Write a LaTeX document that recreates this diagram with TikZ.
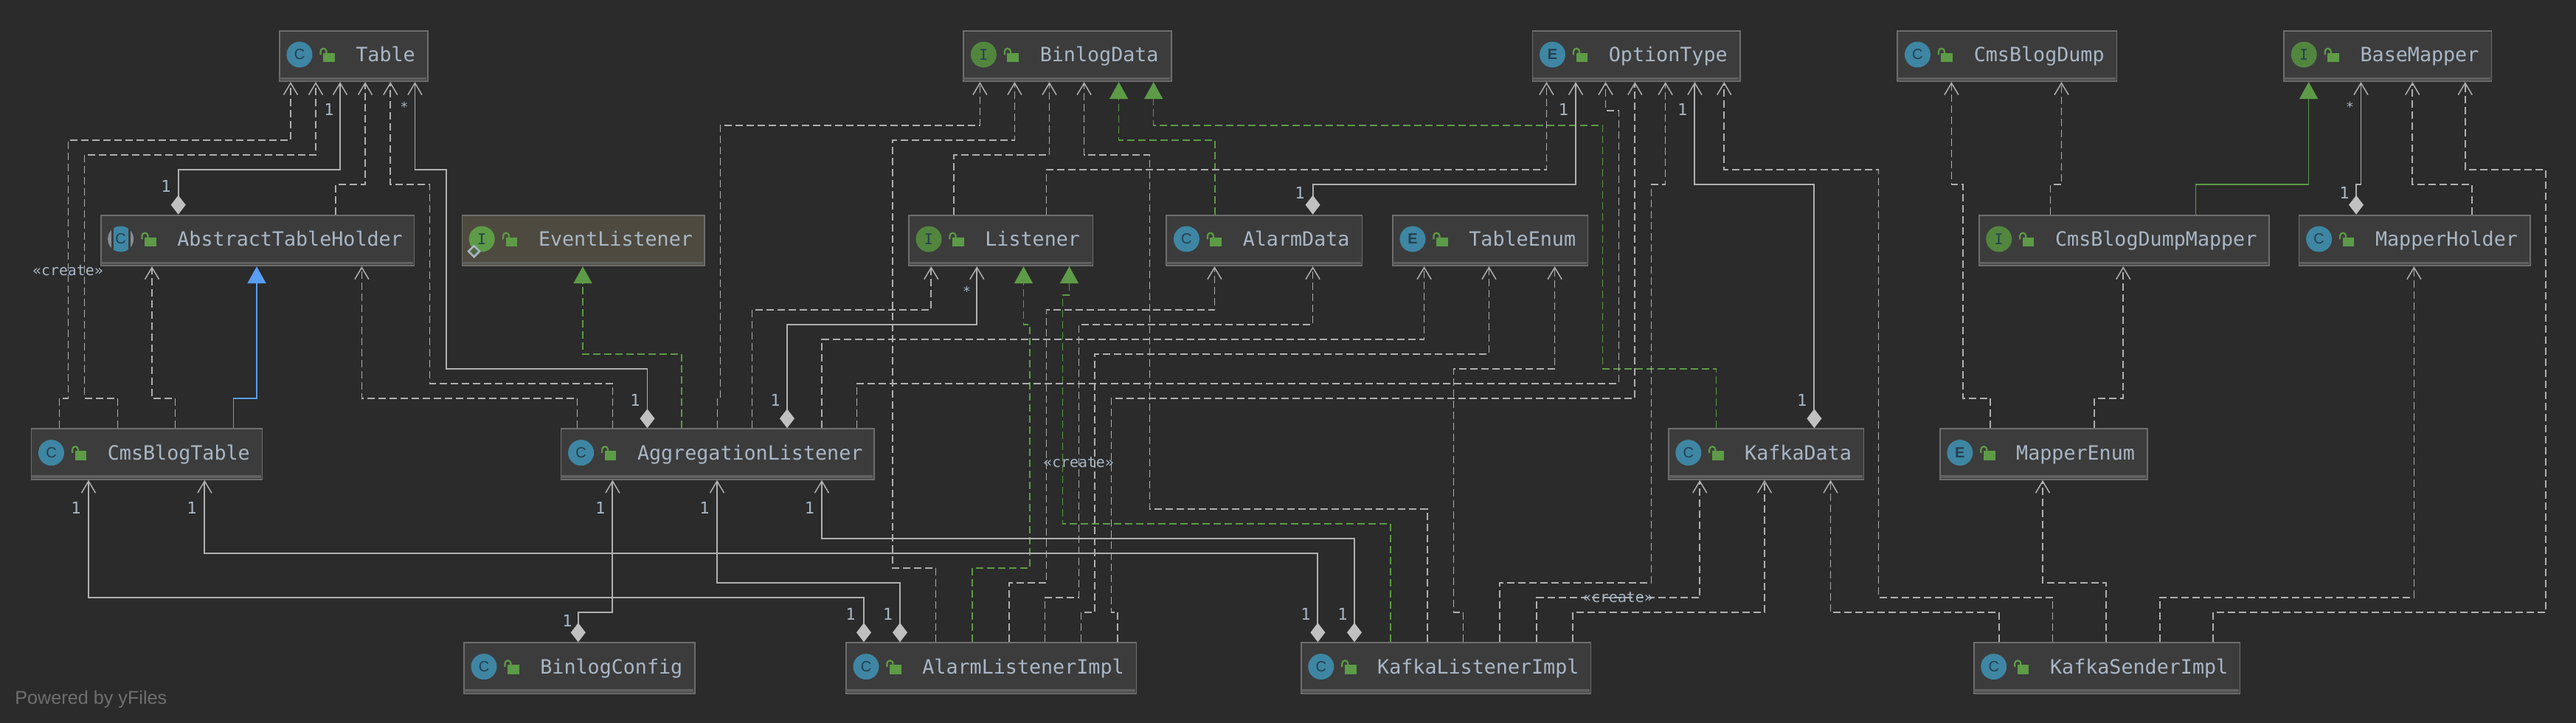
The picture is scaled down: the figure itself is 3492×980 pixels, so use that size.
\documentclass[tikz,border=0pt]{standalone}
\usepackage{fontspec}
\setmainfont{Liberation Sans}
\setmonofont{DejaVu Sans Mono}
\usetikzlibrary{arrows.meta}
\definecolor{bgc}{HTML}{2B2B2B}
\definecolor{boxc}{HTML}{3C3C3C}
\definecolor{boxe}{HTML}{6E6E6E}
\definecolor{boxb}{HTML}{606060}
\definecolor{evc}{HTML}{4E4A3F}
\definecolor{txtc}{HTML}{A9B7C6}
\definecolor{lnc}{HTML}{B0B0B0}
\definecolor{dmc}{HTML}{C0C0C0}
\definecolor{grnc}{HTML}{5D9B47}
\definecolor{bluc}{HTML}{589DF6}
\definecolor{tealc}{HTML}{3E86A3}
\definecolor{igrn}{HTML}{52863F}
\definecolor{icot}{HTML}{253F4E}
\definecolor{pwrc}{HTML}{6F6F6F}
\tikzset{
  umlbox/.style={draw=boxe,fill=boxc,line width=.9pt,rectangle,inner sep=0pt,anchor=north west},
  namelbl/.style={text=txtc,font=\ttfamily\fontsize{13.35}{15}\selectfont,inner sep=0pt,anchor=base west},
  ico/.style={circle,inner sep=0pt,minimum size=17.5pt,text=icot,font=\rmfamily\fontsize{10}{12}\selectfont},
  mult/.style={text=txtc,font=\ttfamily\fontsize{11}{13}\selectfont,inner sep=0pt},
  star/.style={text=txtc,font=\ttfamily\fontsize{9}{11}\selectfont,inner sep=0pt},
  crt/.style={text=txtc,font=\ttfamily\fontsize{9.9}{12}\selectfont,inner sep=0pt},
  openhead/.style={-{Straight Barb[length=8pt,width=9.5pt,line width=.75pt]}},
  dashpat/.style={dash pattern=on 5pt off 2.5pt},
  dep/.style={draw=lnc,line width=.85pt,dashpat,openhead},
  asc/.style={draw=lnc,line width=.95pt,{Diamond[length=13pt,width=10pt,color=dmc]}-{Straight Barb[length=8pt,width=9.5pt,line width=.75pt]}},
  imp/.style={draw=grnc,line width=.75pt,dashpat,-{Triangle[length=11.5pt,width=12.5pt]}},
  impsolid/.style={draw=grnc,line width=.8pt,-{Triangle[length=11.5pt,width=12.5pt]}},
  ext/.style={draw=bluc,line width=.8pt,-{Triangle[length=11.5pt,width=12.5pt]}},
}
\newcommand{\lockat}[2]{%
  \fill[grnc] ({#1+60},{#2+31}) rectangle ({#1+75.7},{#2+43.3});
  \draw[grnc,line width=1.1pt] ({#1+56.5},{#2+33.6}) -- ({#1+56.5},{#2+29}) arc[start angle=180,end angle=360,x radius=4,y radius=4] -- ({#1+64.5},{#2+31.5});
}
\newcommand{\iconC}[3]{\node[ico,fill=tealc] (#1-icon) at ({#2+28},{#3+33.3}) {C};}
\newcommand{\iconE}[3]{\node[ico,fill=tealc] (#1-icon) at ({#2+28},{#3+33.3}) {\bfseries E};}
\newcommand{\iconI}[3]{\node[ico,fill=igrn,font=\ttfamily\fontsize{10}{12}\selectfont] (#1-icon) at ({#2+28},{#3+33.3}) {I};}
\newcommand{\iconA}[3]{%
  \node[ico,fill=boxe!60!txtc] (#1-icon) at ({#2+27.6},{#3+33.3}) {};
  \fill[boxc] ({#2+27.6-13},{#3+10}) rectangle ({#2+27.6+13},{#3+56});
  \begin{scope}
    \clip ({#2+27.6},{#3+33.3}) circle[radius=17.5];
    \fill[tealc] ({#2+27.6-10},{#3+10}) rectangle ({#2+27.6+10},{#3+56});
  \end{scope}
  \node[ico,minimum size=0pt] (#1-let) at ({#2+27.6},{#3+33.3}) {C};
}
\newcommand{\iconL}[3]{%
  \node[ico,fill=grnc,font=\ttfamily\fontsize{10}{12}\selectfont] (#1-icon) at ({#2+27.6},{#3+33.3}) {I};
  \draw[txtc,line width=1.3pt,fill=evc!50!igrn] ({#2+17},{#3+42.5}) -- ({#2+24.5},{#3+50}) -- ({#2+17},{#3+57.5}) -- ({#2+9.5},{#3+50}) -- cycle;
}
\newcommand{\cls}[7][boxc]{%
  % #2 name, #3 x0, #4 x1, #5 y0, #6 kind, #7 text
  \pgfmathsetlengthmacro{\bw}{(#4-#3)*.5pt}%
  \node[umlbox,fill=#1,minimum width=\bw,minimum height=34.3pt] (#2) at ({#3},{#5}) {};
  \fill[boxb] ({#3+1},{#5+64}) rectangle ({#4-1},{#5+67.5});
  \csname icon#6\endcsname{#2}{#3}{#5}
  \lockat{#3}{#5}
  \node[namelbl] (#2-name) at ({#3+104},{#5+43}) {#7};
}
\begin{document}
\begin{tikzpicture}[x=.5pt,y=-.5pt]
\fill[bgc] (0,0) rectangle (3492,980);
\useasboundingbox (0,0) rectangle (3492,980);
% ---------- row 1
\cls{Table}{378}{579}{40.7}{C}{Table}
\cls{Binlog}{1305.4}{1586.7}{40.7}{I}{BinlogData}
\cls{OptType}{2076.5}{2357.7}{40.7}{E}{OptionType}
\cls{CmsDump}{2571.4}{2868.6}{40.7}{C}{CmsBlogDump}
\cls{BaseMap}{3095.2}{3376.6}{40.7}{I}{BaseMapper}
% ---------- row 2
\cls{Holder}{136}{560.6}{290.7}{A}{AbstractTableHolder}
\cls[evc]{EventL}{625.6}{954}{290.7}{L}{EventListener}
\cls{Listener}{1231}{1480.5}{290.7}{I}{Listener}
\cls{AlarmData}{1580.4}{1845.6}{290.7}{C}{AlarmData}
\cls{TableEnum}{1887}{2151.5}{290.7}{E}{TableEnum}
\cls{DumpMap}{2681.7}{3074.8}{290.7}{I}{CmsBlogDumpMapper}
\cls{MapHold}{3115.6}{3429.3}{290.7}{C}{MapperHolder}
% ---------- row 3
\cls{CmsTable}{41.5}{354.6}{580.3}{C}{CmsBlogTable}
\cls{Aggr}{759.6}{1184.3}{580.3}{C}{AggregationListener}
\cls{KData}{2260.8}{2525.5}{580.3}{C}{KafkaData}
\cls{MapEnum}{2628.8}{2910}{580.3}{E}{MapperEnum}
% ---------- row 4
\cls{BinCfg}{628}{941}{870.3}{C}{BinlogConfig}
\cls{AlarmImpl}{1146}{1539.5}{870.3}{C}{AlarmListenerImpl}
\cls{KafkaImpl}{1762.8}{2155.6}{870.3}{C}{KafkaListenerImpl}
\cls{SenderImpl}{2674.7}{3035.6}{870.3}{C}{KafkaSenderImpl}
% ---------- connectors to Table
\draw[dep] (CmsTable.north -| 80.4,0) -- (80.4,540) -- (92.5,540) -- (92.5,190) -- (394,190) -- (Table.south -| 394,0);
\draw[dep] (CmsTable.north -| 159.4,0) -- (159.4,540) -- (114.5,540) -- (114.5,210) -- (428,210) -- (Table.south -| 428,0);
\draw[asc] (Holder.north -| 241.7,0) -- (241.7,230) -- (461,230) -- (Table.south -| 461,0);
\draw[dep] (Holder.north -| 454.7,0) -- (454.7,250) -- (495,250) -- (Table.south -| 495,0);
\draw[dep] (Aggr.north -| 830.6,0) -- (830.6,520) -- (582.5,520) -- (582.5,250) -- (529.3,250) -- (Table.south -| 529.3,0);
\draw[asc] (Aggr.north -| 877.5,0) -- (877.5,500) -- (604.6,500) -- (604.6,230) -- (562.5,230) -- (Table.south -| 562.5,0);
% ---------- to AbstractTableHolder / EventListener
\draw[dep] (CmsTable.north -| 237.5,0) -- (237.5,540) -- (206,540) -- (Holder.south -| 206,0);
\draw[ext] (CmsTable.north -| 316.3,0) -- (316.3,540) -- (348,540) -- (Holder.south -| 348,0);
\draw[dep] (Aggr.north -| 782.6,0) -- (782.6,540) -- (490.4,540) -- (Holder.south -| 490.4,0);
\draw[imp] (Aggr.north -| 924,0) -- (924,480) -- (790,480) -- (EventL.south -| 790,0);
% ---------- to BinlogData
\draw[dep] (Aggr.north -| 972.6,0) -- (972.6,540) -- (976.4,540) -- (976.4,170) -- (1328.4,170) -- (Binlog.south -| 1328.4,0);
\draw[dep] (AlarmImpl.north -| 1268.5,0) -- (1268.5,770) -- (1210,770) -- (1210,190) -- (1375.4,190) -- (Binlog.south -| 1375.4,0);
\draw[dep] (Listener.north -| 1293.3,0) -- (1293.3,210) -- (1422.5,210) -- (Binlog.south -| 1422.5,0);
\draw[dep] (KafkaImpl.north -| 1935,0) -- (1935,690) -- (1558.6,690) -- (1558.6,210) -- (1469.6,210) -- (Binlog.south -| 1469.6,0);
\draw[imp] (AlarmData.north -| 1647,0) -- (1647,190) -- (1516.6,190) -- (Binlog.south -| 1516.6,0);
\draw[imp] (KData.north -| 2326.5,0) -- (2326.5,500) -- (2172.5,500) -- (2172.5,170) -- (1563.7,170) -- (Binlog.south -| 1563.7,0);
% ---------- to Listener
\draw[dep] (Aggr.north -| 1019.5,0) -- (1019.5,420) -- (1262.3,420) -- (Listener.south -| 1262.3,0);
\draw[asc] (Aggr.north -| 1067,0) -- (1067,440) -- (1324.3,440) -- (Listener.south -| 1324.3,0);
\draw[imp] (AlarmImpl.north -| 1318,0) -- (1318,770) -- (1396,770) -- (1396,440) -- (1387.5,440) -- (Listener.south -| 1387.5,0);
\draw[imp] (KafkaImpl.north -| 1885,0) -- (1885,710) -- (1440.3,710) -- (1440.3,400) -- (1449.5,400) -- (Listener.south -| 1449.5,0);
% ---------- to AlarmData
\draw[dep] (AlarmImpl.north -| 1368,0) -- (1368,790) -- (1418.5,790) -- (1418.5,420) -- (1646.4,420) -- (AlarmData.south -| 1646.4,0);
\draw[dep] (AlarmImpl.north -| 1416.5,0) -- (1416.5,810) -- (1462.4,810) -- (1462.4,440) -- (1779.6,440) -- (AlarmData.south -| 1779.6,0);
% ---------- to TableEnum
\draw[dep] (Aggr.north -| 1114.2,0) -- (1114.2,460) -- (1930.6,460) -- (TableEnum.south -| 1930.6,0);
\draw[dep] (AlarmImpl.north -| 1465.6,0) -- (1465.6,830) -- (1484.3,830) -- (1484.3,480) -- (2018.4,480) -- (TableEnum.south -| 2018.4,0);
\draw[dep] (KafkaImpl.north -| 1983.4,0) -- (1983.4,830) -- (1970.6,830) -- (1970.6,500) -- (2107.6,500) -- (TableEnum.south -| 2107.6,0);
% ---------- to OptionType
\draw[dep] (Listener.north -| 1418.5,0) -- (1418.5,230) -- (2096.4,230) -- (OptType.south -| 2096.4,0);
\draw[asc] (AlarmData.north -| 1779.6,0) -- (1779.6,250) -- (2136,250) -- (OptType.south -| 2136,0);
\draw[dep] (Aggr.north -| 1161.4,0) -- (1161.4,520) -- (2194.4,520) -- (2194.4,150) -- (2176.5,150) -- (OptType.south -| 2176.5,0);
\draw[dep] (AlarmImpl.north -| 1515.3,0) -- (1515.3,830) -- (1506.4,830) -- (1506.4,540) -- (2216.3,540) -- (OptType.south -| 2216.3,0);
\draw[dep] (KafkaImpl.north -| 2033,0) -- (2033,790) -- (2238.5,790) -- (2238.5,250) -- (2257.6,250) -- (OptType.south -| 2257.6,0);
\draw[asc] (KData.north -| 2459.4,0) -- (2459.4,250) -- (2297.4,250) -- (OptType.south -| 2297.4,0);
\draw[dep] (SenderImpl.north -| 2782.5,0) -- (2782.5,810) -- (2546.5,810) -- (2546.5,230) -- (2337.2,230) -- (OptType.south -| 2337.2,0);
% ---------- to KafkaData
\draw[dep] (KafkaImpl.north -| 2083,0) -- (2083,810) -- (2304.2,810) -- (KData.south -| 2304.2,0);
\draw[dep] (KafkaImpl.north -| 2132,0) -- (2132,830) -- (2392,830) -- (KData.south -| 2392,0);
\draw[dep] (SenderImpl.north -| 2709.8,0) -- (2709.8,830) -- (2481.5,830) -- (KData.south -| 2481.5,0);
% ---------- mapper side
\draw[dep] (SenderImpl.north -| 2855,0) -- (2855,790) -- (2769,790) -- (MapEnum.south -| 2769,0);
\draw[dep] (MapEnum.north -| 2698.3,0) -- (2698.3,540) -- (2660.7,540) -- (2660.7,250) -- (2645.4,250) -- (CmsDump.south -| 2645.4,0);
\draw[dep] (MapEnum.north -| 2839.3,0) -- (2839.3,540) -- (2878.2,540) -- (DumpMap.south -| 2878.2,0);
\draw[dep] (DumpMap.north -| 2779.4,0) -- (2779.4,250) -- (2794.5,250) -- (CmsDump.south -| 2794.5,0);
\draw[impsolid] (DumpMap.north -| 2976.5,0) -- (2976.5,250) -- (3129.6,250) -- (BaseMap.south -| 3129.6,0);
\draw[asc] (MapHold.north -| 3194,0) -- (3194,250) -- (3200.5,250) -- (BaseMap.south -| 3200.5,0);
\draw[dep] (MapHold.north -| 3350.9,0) -- (3350.9,250) -- (3270.3,250) -- (BaseMap.south -| 3270.3,0);
\draw[dep] (SenderImpl.north -| 3000,0) -- (3000,830) -- (3450.7,830) -- (3450.7,230) -- (3341.7,230) -- (BaseMap.south -| 3341.7,0);
\draw[dep] (SenderImpl.north -| 2927.7,0) -- (2927.7,810) -- (3272.4,810) -- (MapHold.south -| 3272.4,0);
% ---------- row 3 bottom associations
\draw[asc] (AlarmImpl.north -| 1171,0) -- (1171,810) -- (120,810) -- (CmsTable.south -| 120,0);
\draw[asc] (KafkaImpl.north -| 1786.4,0) -- (1786.4,750) -- (277.4,750) -- (CmsTable.south -| 277.4,0);
\draw[asc] (BinCfg.north -| 783.8,0) -- (783.8,830) -- (830.4,830) -- (Aggr.south -| 830.4,0);
\draw[asc] (AlarmImpl.north -| 1220,0) -- (1220,790) -- (972,790) -- (Aggr.south -| 972,0);
\draw[asc] (KafkaImpl.north -| 1836,0) -- (1836,730) -- (1114,730) -- (Aggr.south -| 1114,0);
% ---------- multiplicities
\node[mult] (m01) at (446,148) {1};
\node[mult] (m02) at (225,252) {1};
\node[star] (m03) at (548,145) {*};
\node[mult] (m04) at (861,542) {1};
\node[mult] (m05) at (1051,542) {1};
\node[star] (m06) at (1310.6,395) {*};
\node[mult] (m07) at (1762,261) {1};
\node[mult] (m08) at (2119.4,148) {1};
\node[mult] (m09) at (2280.6,148) {1};
\node[mult] (m10) at (2442.6,542) {1};
\node[star] (m11) at (3185.4,145) {*};
\node[mult] (m12) at (3178,261) {1};
\node[mult] (m13) at (103,688) {1};
\node[mult] (m14) at (260,688) {1};
\node[mult] (m15) at (813.8,688) {1};
\node[mult] (m16) at (955,688) {1};
\node[mult] (m17) at (1097.6,688) {1};
\node[mult] (m18) at (769,841) {1};
\node[mult] (m19) at (1153,832) {1};
\node[mult] (m20) at (1203.4,832) {1};
\node[mult] (m21) at (1770,832) {1};
\node[mult] (m22) at (1820,832) {1};
% ---------- stereotype labels
\node[crt] (c1) at (92,367) {«create»};
\node[crt] (c2) at (1462,627) {«create»};
\node[crt] (c3) at (2193,810) {«create»};
\node[text=pwrc,font=\fontsize{12.6}{14}\selectfont,inner sep=0pt,anchor=base west] (pw) at (20,954) {Powered by yFiles};
\end{tikzpicture}
\end{document}
